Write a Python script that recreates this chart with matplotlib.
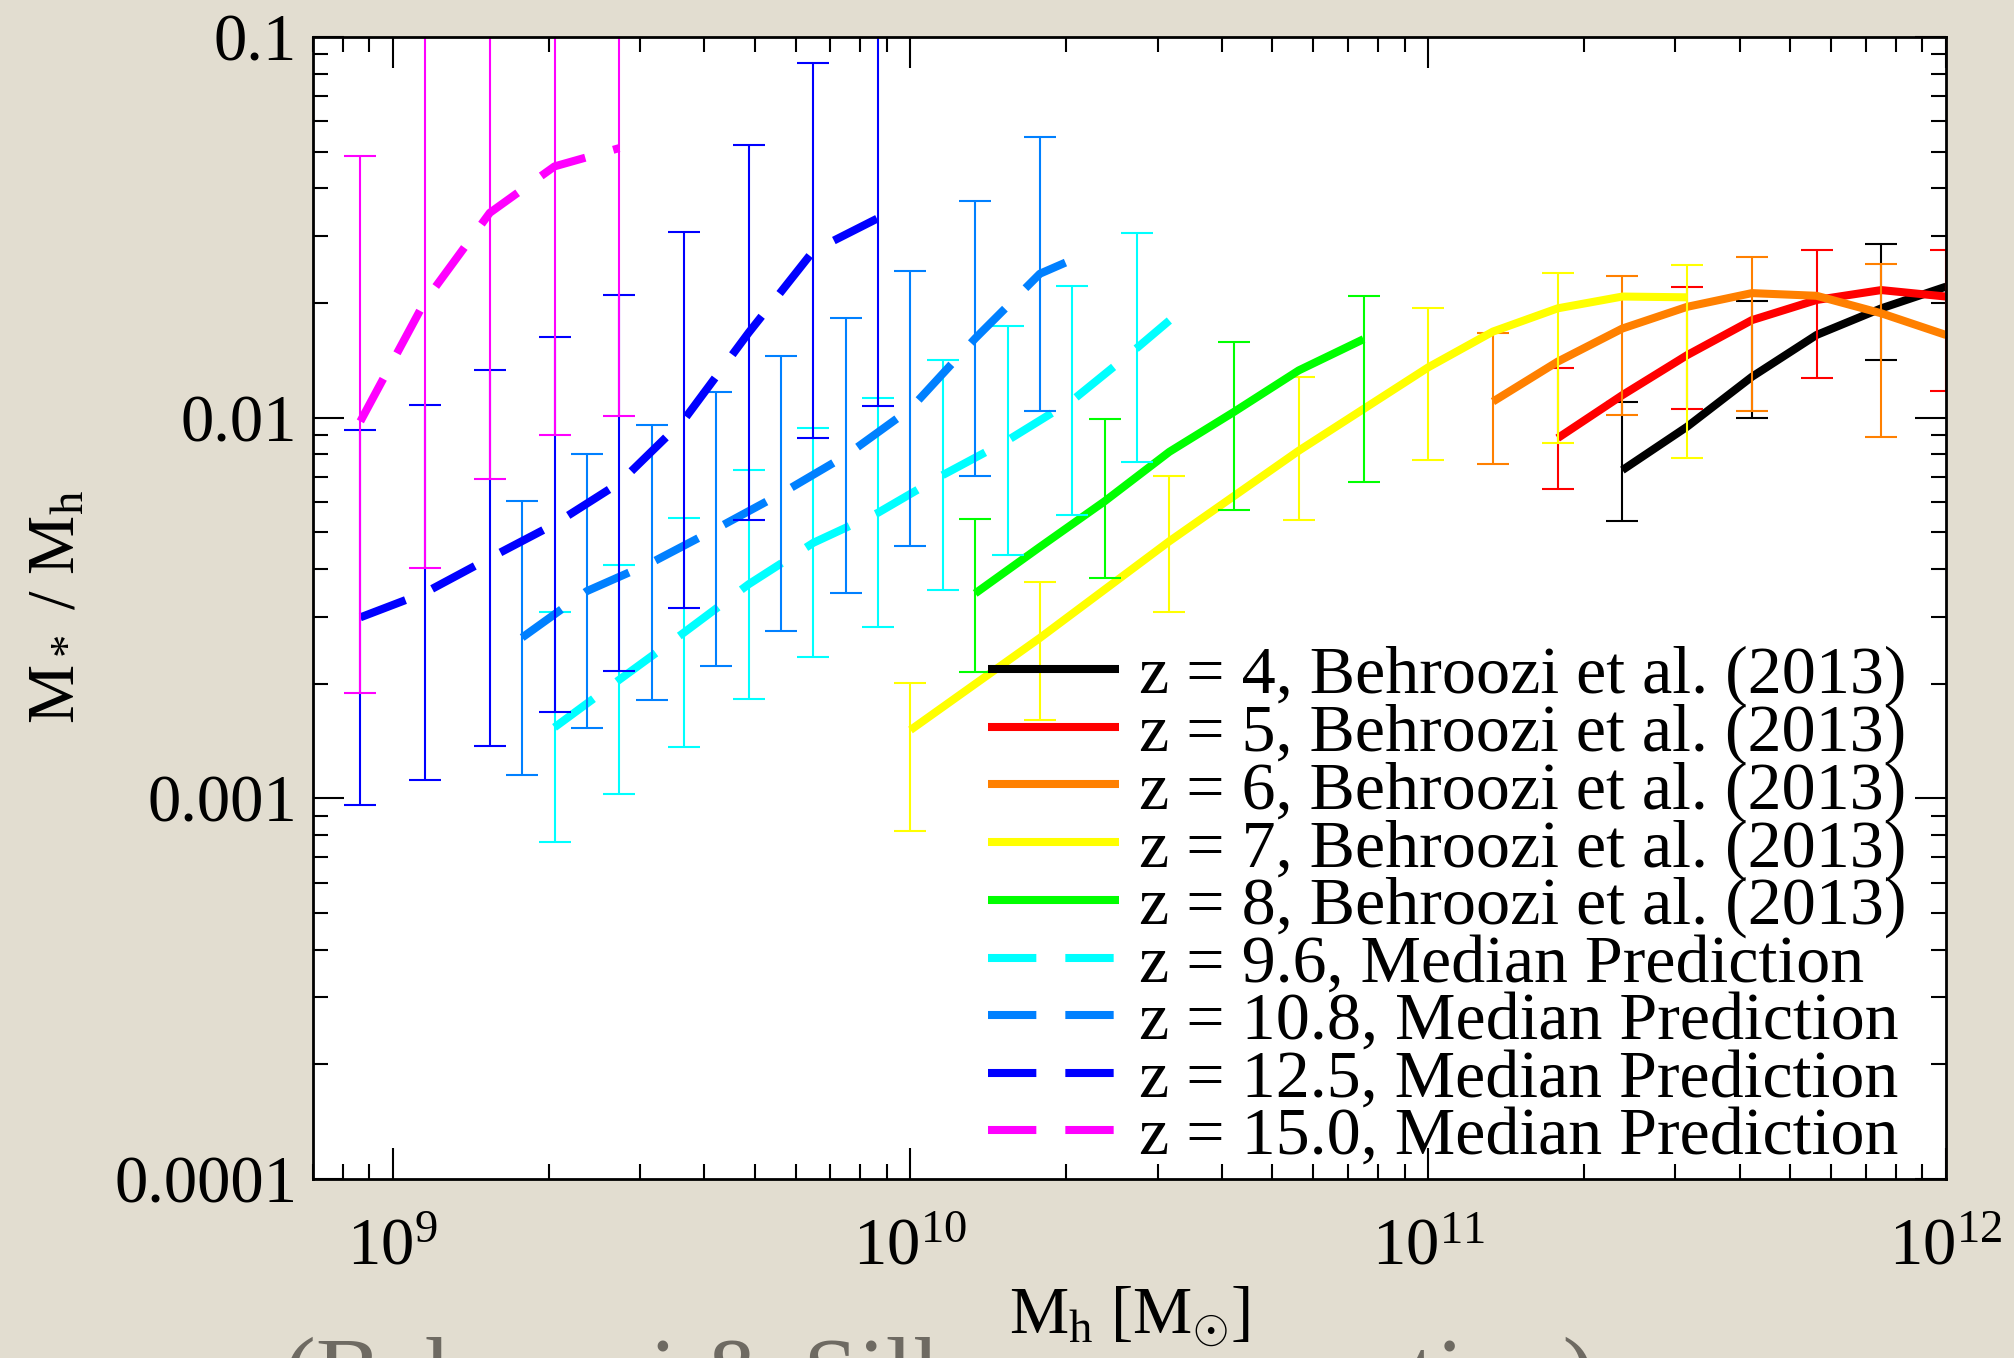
import numpy as np
import matplotlib
matplotlib.use('Agg')
import matplotlib.pyplot as plt
from matplotlib.ticker import FixedLocator, FixedFormatter, LogLocator, NullFormatter

plt.rcParams['font.family'] = ['Liberation Serif', 'DejaVu Serif']
plt.rcParams['mathtext.fontset'] = 'custom'
plt.rcParams['mathtext.rm'] = 'Liberation Serif'
plt.rcParams['mathtext.it'] = 'Liberation Serif:italic'
plt.rcParams['mathtext.bf'] = 'Liberation Serif:bold'

# All values are log10(Mh / Msun) and log10(M* / Mh)

# z = 4, Behroozi et al. (2013)
line_m_z4 = [11.375, 11.5, 11.625, 11.75, 11.875, 12.0]
line_f_z4 = [-2.138, -2.024, -1.893, -1.783, -1.713, -1.656]
bar_m_z4 = [11.375, 11.625, 11.875]
bar_lo_z4 = [-2.272, -2.002, -1.850]
bar_hi_z4 = [-1.960, -1.694, -1.545]

# z = 5
line_m_z5 = [11.25, 11.375, 11.5, 11.625, 11.75, 11.875, 12.0]
line_f_z5 = [-2.054, -1.941, -1.836, -1.744, -1.691, -1.665, -1.682]
bar_m_z5 = [11.25, 11.5, 11.75, 12.0]
bar_lo_z5 = [-2.188, -1.978, -1.897, -1.930]
bar_hi_z5 = [-1.871, -1.656, -1.559, -1.560]

# z = 6
line_m_z6 = [11.125, 11.25, 11.375, 11.5, 11.625, 11.75, 11.875, 12.0]
line_f_z6 = [-1.958, -1.853, -1.766, -1.709, -1.673, -1.680, -1.726, -1.783]
bar_m_z6 = [11.125, 11.375, 11.625, 11.875]
bar_lo_z6 = [-2.123, -1.993, -1.983, -2.052]
bar_hi_z6 = [-1.779, -1.628, -1.577, -1.596]

# z = 7
line_m_z7 = [10.0, 10.25, 10.5, 10.75, 11.0, 11.125, 11.25, 11.375, 11.5]
line_f_z7 = [-2.821, -2.579, -2.325, -2.087, -1.868, -1.774, -1.713, -1.682, -1.684]
bar_m_z7 = [10.0, 10.25, 10.5, 10.75, 11.0, 11.25, 11.5]
bar_lo_z7 = [-3.087, -2.795, -2.512, -2.269, -2.111, -2.066, -2.106]
bar_hi_z7 = [-2.697, -2.432, -2.153, -1.894, -1.711, -1.620, -1.599]

# z = 8
line_m_z8 = [10.125, 10.25, 10.375, 10.5, 10.625, 10.75, 10.875]
line_f_z8 = [-2.462, -2.340, -2.220, -2.090, -1.985, -1.876, -1.794]
bar_m_z8 = [10.125, 10.375, 10.625, 10.875]
bar_lo_z8 = [-2.668, -2.421, -2.244, -2.170]
bar_hi_z8 = [-2.266, -2.003, -1.802, -1.681]

# z = 9.6, median prediction
line_m_z96 = [9.3125, 9.4375, 9.5625, 9.6875, 9.8125, 9.9375, 10.0625, 10.1875, 10.3125, 10.4375, 10.5]
line_f_z96 = [-2.814, -2.689, -2.565, -2.438, -2.329, -2.250, -2.151, -2.060, -1.955, -1.817, -1.745]
bar_m_z96 = [9.3125, 9.4375, 9.5625, 9.6875, 9.8125, 9.9375, 10.0625, 10.1875, 10.3125, 10.4375]
bar_lo_z96 = [-3.115, -2.990, -2.866, -2.739, -2.630, -2.551, -2.452, -2.361, -2.256, -2.117]
bar_hi_z96 = [-2.512, -2.387, -2.264, -2.137, -2.027, -1.949, -1.849, -1.759, -1.654, -1.516]

# z = 10.8
line_m_z108 = [9.25, 9.375, 9.5, 9.625, 9.75, 9.875, 10.0, 10.125, 10.25, 10.3125]
line_f_z108 = [-2.578, -2.456, -2.381, -2.292, -2.200, -2.100, -1.977, -1.792, -1.622, -1.585]
bar_m_z108 = [9.25, 9.375, 9.5, 9.625, 9.75, 9.875, 10.0, 10.125, 10.25]
bar_lo_z108 = [-2.939, -2.817, -2.742, -2.653, -2.560, -2.460, -2.338, -2.153, -1.983]
bar_hi_z108 = [-2.218, -2.095, -2.020, -1.932, -1.839, -1.739, -1.616, -1.432, -1.262]

# z = 12.5
line_m_z125 = [8.9375, 9.0625, 9.1875, 9.3125, 9.4375, 9.5625, 9.6875, 9.8125, 9.9375]
line_f_z125 = [-2.525, -2.460, -2.369, -2.280, -2.172, -2.006, -1.777, -1.562, -1.476]
bar_m_z125 = line_m_z125
bar_lo_z125 = [-3.018, -2.952, -2.862, -2.773, -2.665, -2.500, -2.269, -2.054, -1.969]
bar_hi_z125 = [-2.032, -1.967, -1.876, -1.787, -1.679, -1.513, -1.284, -1.069, -0.983]

# z = 15.0
line_m_z15 = [8.9375, 9.0625, 9.1875, 9.3125, 9.4375]
line_f_z15 = [-2.010, -1.694, -1.462, -1.340, -1.292]
bar_m_z15 = line_m_z15
bar_lo_z15 = [-2.723, -2.396, -2.161, -2.046, -1.997]
bar_hi_z15 = [-1.314, -0.990, -0.760, -0.640, -0.590]

ytick_vals = [1e-4, 1e-3, 1e-2, 1e-1]
ytick_labels = ['0.0001', '0.001', '0.01', '0.1']

series = [
    ('z = 4, Behroozi et al. (2013)', 'black', False, line_m_z4, line_f_z4, bar_m_z4, bar_lo_z4, bar_hi_z4),
    ('z = 5, Behroozi et al. (2013)', '#ff0000', False, line_m_z5, line_f_z5, bar_m_z5, bar_lo_z5, bar_hi_z5),
    ('z = 6, Behroozi et al. (2013)', '#ff8000', False, line_m_z6, line_f_z6, bar_m_z6, bar_lo_z6, bar_hi_z6),
    ('z = 7, Behroozi et al. (2013)', '#ffff00', False, line_m_z7, line_f_z7, bar_m_z7, bar_lo_z7, bar_hi_z7),
    ('z = 8, Behroozi et al. (2013)', '#00ff00', False, line_m_z8, line_f_z8, bar_m_z8, bar_lo_z8, bar_hi_z8),
    ('z = 9.6, Median Prediction', '#00ffff', True, line_m_z96, line_f_z96, bar_m_z96, bar_lo_z96, bar_hi_z96),
    ('z = 10.8, Median Prediction', '#0080ff', True, line_m_z108, line_f_z108, bar_m_z108, bar_lo_z108, bar_hi_z108),
    ('z = 12.5, Median Prediction', '#0000ff', True, line_m_z125, line_f_z125, bar_m_z125, bar_lo_z125, bar_hi_z125),
    ('z = 15.0, Median Prediction', '#ff00ff', True, line_m_z15, line_f_z15, bar_m_z15, bar_lo_z15, bar_hi_z15),
]

bg = '#e2ddd0'
W, H = 2014, 1358
fig = plt.figure(figsize=(W / 100, H / 100), dpi=100)
fig.patch.set_facecolor(bg)
ax = fig.add_axes([312.5 / W, 1 - 1178.7 / H, (1946 - 312.5) / W, (1178.7 - 37) / H])
ax.set_facecolor('white')

handles = []
for label, color, dashed, lm, lf, bm, blo, bhi in series:
    bx = 10 ** np.array(bm)
    lo = 10 ** np.array(blo)
    hi = 10 ** np.array(bhi)
    mid = np.sqrt(lo * hi)
    ax.errorbar(bx, mid, yerr=[mid - lo, hi - mid], fmt='none', ecolor=color,
                elinewidth=1.5, capsize=11.5, capthick=1.5)
    ls = (0, (6.0, 3.6)) if dashed else '-'
    ln, = ax.plot(10 ** np.array(lm), 10 ** np.array(lf), color=color, lw=5.8,
                  linestyle=ls, solid_capstyle='butt', dash_capstyle='butt', label=label)
    handles.append(ln)

ax.set_xscale('log')
ax.set_yscale('log')
ax.set_xlim(7e8, 1e12)
ax.set_ylim(1e-4, 0.1)

ax.yaxis.set_major_locator(FixedLocator(ytick_vals))
ax.yaxis.set_major_formatter(FixedFormatter(ytick_labels))
ax.yaxis.set_minor_locator(LogLocator(base=10, subs=np.arange(2, 10)))
ax.yaxis.set_minor_formatter(NullFormatter())
ax.xaxis.set_minor_locator(LogLocator(base=10, subs=np.arange(2, 10)))
ax.xaxis.set_minor_formatter(NullFormatter())

ax.tick_params(which='both', direction='in', top=True, right=True, width=1.5, colors='black')
ax.tick_params(which='major', length=22, labelsize=48)
ax.tick_params(which='minor', length=11)
ax.tick_params(axis='y', which='major', pad=11)
ax.tick_params(axis='x', which='major', pad=28)
for sp in ax.spines.values():
    sp.set_linewidth(2.0)

leg = ax.legend(handles=handles, loc='upper left', bbox_to_anchor=(988 / W, 1 - 645 / H),
                bbox_transform=fig.transFigure, frameon=False, fontsize=49,
                handlelength=1.92, handletextpad=0.3, labelspacing=-0.063,
                borderpad=0, borderaxespad=0)

# faint citation line running off the bottom edge
fig.text(283 / W, 1 - 1406 / H, '(Behroozi & Silk, in preparation)', fontsize=71,
         color='#6e6a62', ha='left', va='baseline')

fig.text(1129 / W, 1 - 1333 / H, r'M$_{\rm h}$ [M$_{\odot}$]', fontsize=48,
         ha='center', va='baseline',
         bbox=dict(facecolor=bg, edgecolor='none', pad=6))
fig.text(58 / W, 1 - 607 / H, r'M$_*$ / M$_{\rm h}$', fontsize=48,
         ha='center', va='center', rotation=90)

fig.savefig('out.png', dpi=100, facecolor=bg)
